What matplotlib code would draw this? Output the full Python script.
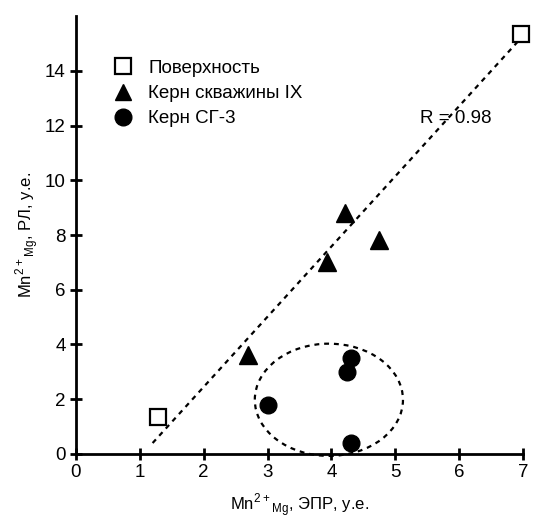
import matplotlib
matplotlib.use("Agg")
import matplotlib.pyplot as plt
from matplotlib.patches import Ellipse
from matplotlib.lines import Line2D

plt.rcParams['font.family'] = ['Liberation Sans', 'DejaVu Sans']
plt.rcParams['mathtext.fontset'] = 'custom'
plt.rcParams['mathtext.rm'] = 'Liberation Sans'

# data
surface_x = [1.28, 6.97]
surface_y = [1.35, 15.35]
well_x = [2.7, 3.93, 4.22, 4.75]
well_y = [3.6, 7.0, 8.8, 7.8]
sg3_x = [3.0, 4.25, 4.3, 4.3]
sg3_y = [1.8, 3.0, 3.5, 0.4]
fit_x = [1.2, 6.97]
fit_y = [0.4, 15.2]
r_text = "R = 0.98"

fig = plt.figure(figsize=(5.37, 5.18), dpi=100)
ax = fig.add_axes([0.1415, 0.1236, 0.8325, 0.8454])

ax.plot(fit_x, fit_y, color='black', ls=(0, (2.2, 2.2)), lw=1.6, clip_on=False, zorder=2)
ax.add_patch(Ellipse((3.96, 1.98), 2.32, 4.1, fill=False, ec='black',
                     ls=(0, (2.2, 2.2)), lw=1.6, clip_on=False, zorder=2))

ax.plot(surface_x, surface_y, 's', ms=11.5, mfc='white', mec='black', mew=1.6,
        clip_on=False, zorder=3)
ax.plot(well_x, well_y, '^', ms=12.5, color='black', clip_on=False, zorder=3)
ax.plot(sg3_x, sg3_y, 'o', ms=12, color='black', clip_on=False, zorder=3)

ax.text(5.38, 12.26, r_text, fontsize=13.5, va='center', ha='left')

handles = [
    Line2D([], [], marker='s', ls='none', ms=11, mfc='white', mec='black', mew=1.6),
    Line2D([], [], marker='^', ls='none', ms=12, color='black'),
    Line2D([], [], marker='o', ls='none', ms=12, color='black'),
]
labels = ['Поверхность', 'Керн скважины IX', 'Керн СГ-3']
ax.legend(handles, labels, loc='upper left', bbox_to_anchor=(0.08, 0.9),
          frameon=False, fontsize=13.5, handletextpad=0.75, labelspacing=0.43,
          handlelength=1.2, borderaxespad=0, borderpad=0)

ax.set_xlim(0, 7)
ax.set_ylim(0, 16)
ax.set_xticks(range(0, 8))
ax.set_yticks(range(0, 15, 2))
ax.spines['top'].set_visible(False)
ax.spines['right'].set_visible(False)
ax.spines['left'].set_linewidth(2)
ax.spines['bottom'].set_linewidth(2)
ax.tick_params(direction='inout', length=9, width=2, labelsize=13.5, pad=3)

ax.set_xlabel(r'Mn$^{\mathregular{2+}}$$_{\mathregular{Mg}}$, ЭПР, у.е.', fontsize=12, labelpad=7)
ax.set_ylabel(r'Mn$^{\mathregular{2+}}$$_{\mathregular{Mg}}$, РЛ, у.е.', fontsize=12, labelpad=3)

fig.savefig('out.png', dpi=100)
